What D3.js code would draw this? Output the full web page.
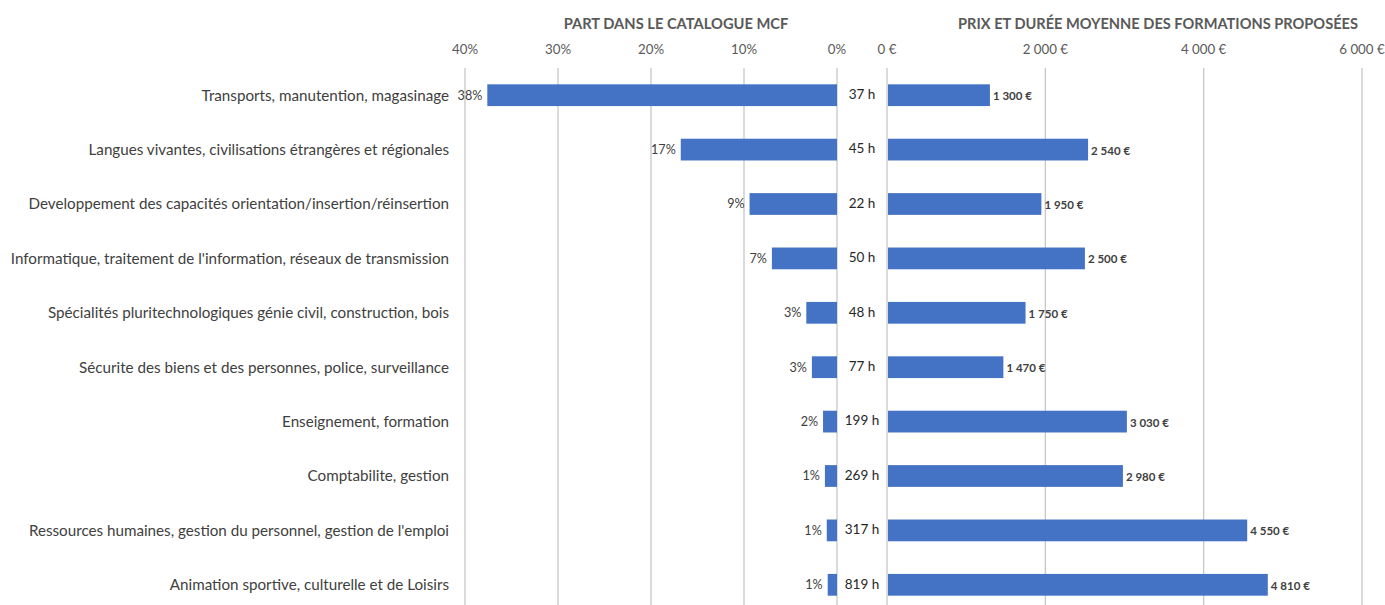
<!DOCTYPE html>
<html><head><meta charset="utf-8">
<script src="https://cdn.jsdelivr.net/npm/d3@7"></script>
<style>body{margin:0;background:#fff}svg{display:block}</style>
</head><body>
<svg id="c" width="1385" height="605"></svg>
<script>
const categories = [
  "Transports, manutention, magasinage",
  "Langues vivantes, civilisations étrangères et régionales",
  "Developpement des capacités orientation/insertion/réinsertion",
  "Informatique, traitement de l'information, réseaux de transmission",
  "Spécialités pluritechnologiques génie civil, construction, bois",
  "Sécurite des biens et des personnes, police, surveillance",
  "Enseignement, formation",
  "Comptabilite, gestion",
  "Ressources humaines, gestion du personnel, gestion de l'emploi",
  "Animation sportive, culturelle et de Loisirs"
];
const shareValues = [37.6, 16.8, 9.4, 7.0, 3.3, 2.7, 1.5, 1.3, 1.1, 1.0];
const hoursValues = [37, 45, 22, 50, 48, 77, 199, 269, 317, 819];
const priceValues = [1300, 2540, 1950, 2500, 1750, 1470, 3030, 2980, 4550, 4810];
const shareTicks = [40, 30, 20, 10, 0];
const priceTicks = [0, 2000, 4000, 6000];
const titleLeft = "PART DANS LE CATALOGUE MCF";
const titleRight = "PRIX ET DURÉE MOYENNE DES FORMATIONS PROPOSÉES";

const svg = d3.select("#c");
const font = "Lato, 'Open Sans', sans-serif";
const blue = "#4472C4";
const grid = "#c8c8c8";

const y = d3.scaleBand().domain(categories).range([68, 612]).paddingInner(0.6).paddingOuter(0.3);
const xL = d3.scaleLinear().domain([40, 0]).range([465, 837]);
const xR = d3.scaleLinear().domain([0, 6000]).range([887, 1362]);

const fmtEuro = v => d3.format(",")(v).replace(/,/g, "\u202F") + "\u00A0€";
// gridlines
svg.append("g").selectAll("line").data(shareTicks).join("line")
  .attr("x1", d => xL(d)).attr("x2", d => xL(d)).attr("y1", 68).attr("y2", 605)
  .attr("stroke", grid).attr("stroke-width", 1.3);
svg.append("g").selectAll("line").data(priceTicks).join("line")
  .attr("x1", d => xR(d)).attr("x2", d => xR(d)).attr("y1", 68).attr("y2", 605)
  .attr("stroke", grid).attr("stroke-width", 1.3);

// tick labels
svg.append("g").selectAll("text").data(shareTicks).join("text")
  .attr("x", d => xL(d)).attr("y", 54).attr("text-anchor", "middle")
  .attr("font-family", font).attr("font-size", 13.3).attr("fill", "#595959")
  .text(d => d + "%");
svg.append("g").selectAll("text").data(priceTicks).join("text")
  .attr("x", d => xR(d)).attr("y", 54).attr("text-anchor", "middle")
  .attr("font-family", font).attr("font-size", 13.3).attr("fill", "#595959")
  .text(d => fmtEuro(d));

// titles
svg.append("text").attr("x", 676).attr("y", 29).attr("text-anchor", "middle")
  .attr("font-family", font).attr("font-weight", "bold").attr("font-size", 14.7).attr("fill", "#595959").text(titleLeft);
svg.append("text").attr("x", 1158).attr("y", 29).attr("text-anchor", "middle")
  .attr("font-family", font).attr("font-weight", "bold").attr("font-size", 14.6).attr("fill", "#595959").text(titleRight);

// category labels
svg.append("g").selectAll("text").data(categories).join("text")
  .attr("x", 449).attr("y", d => y(d) + y.bandwidth() / 2).attr("dy", "0.35em")
  .attr("text-anchor", "end").attr("font-family", font).attr("font-size", 15.2).attr("fill", "#404040")
  .text(d => d);

// left bars
svg.append("g").selectAll("rect").data(shareValues).join("rect")
  .attr("x", d => xL(d)).attr("width", d => xL(0) - xL(d))
  .attr("y", (d, i) => y(categories[i])).attr("height", y.bandwidth())
  .attr("fill", blue);
svg.append("g").selectAll("text").data(shareValues).join("text")
  .attr("x", d => xL(d) - 5).attr("y", (d, i) => y(categories[i]) + y.bandwidth() / 2).attr("dy", "0.35em")
  .attr("text-anchor", "end").attr("font-family", font).attr("font-size", 12.6).attr("fill", "#404040")
  .text(d => Math.round(d) + "%");

// hours labels
svg.append("g").selectAll("text").data(hoursValues).join("text")
  .attr("x", (xL(0) + xR(0)) / 2).attr("y", (d, i) => y(categories[i]) + y.bandwidth() / 2 - 1).attr("dy", "0.35em")
  .attr("text-anchor", "middle").attr("font-family", font).attr("font-size", 13.5).attr("fill", "#262626")
  .text(d => d + " h");

// right bars
svg.append("g").selectAll("rect").data(priceValues).join("rect")
  .attr("x", xR(0) + 1).attr("width", d => xR(d) - xR(0) - 1)
  .attr("y", (d, i) => y(categories[i])).attr("height", y.bandwidth())
  .attr("fill", blue);
svg.append("g").selectAll("text").data(priceValues).join("text")
  .attr("x", d => xR(d) + 3).attr("y", (d, i) => y(categories[i]) + y.bandwidth() / 2 + 1).attr("dy", "0.35em")
  .attr("font-family", font).attr("font-size", 11.5).attr("font-weight", "bold").attr("fill", "#404040")
  .text(d => fmtEuro(d));
</script>
</body></html>
